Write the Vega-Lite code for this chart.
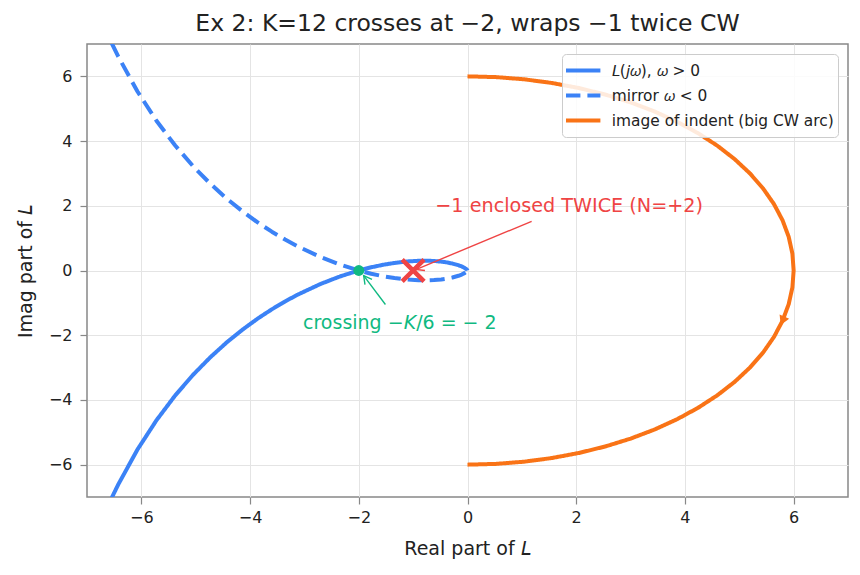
{
  "$schema": "https://vega.github.io/schema/vega-lite/v6.json",
  "width": 761,
  "height": 453,
  "autosize": {"type": "none"},
  "padding": {"left": 87, "top": 44, "right": 12, "bottom": 78},
  "background": "white",
  "title": {
    "text": "Ex 2: K=12 crosses at −2, wraps −1 twice CW",
    "font": "DejaVu Sans",
    "fontSize": 23.5,
    "fontWeight": "normal",
    "color": "#222222",
    "frame": "group",
    "anchor": "middle",
    "baseline": "alphabetic",
    "offset": 11,
    "dy": 21
  },
  "config": {
    "font": "DejaVu Sans",
    "view": {"stroke": "#888888", "strokeWidth": 1.5},
    "axis": {
      "domain": false,
      "grid": true,
      "gridColor": "#e4e4e4",
      "gridWidth": 1,
      "tickColor": "#888888",
      "tickSize": 7,
      "tickWidth": 1.2,
      "labelFont": "DejaVu Sans",
      "labelFontSize": 16,
      "labelColor": "#222222",
      "titleFont": "DejaVu Sans",
      "titleFontSize": 19,
      "titleFontWeight": "normal",
      "titleColor": "#222222"
    },
    "legend": {
      "orient": "top-right",
      "offset": 10,
      "padding": 4,
      "fillColor": "rgba(255,255,255,0.85)",
      "strokeColor": "#cccccc",
      "cornerRadius": 4,
      "labelFont": "DejaVu Sans",
      "labelFontSize": 15.4,
      "labelColor": "#222222",
      "labelLimit": 400,
      "symbolType": "M-1,0L1,0",
      "symbolSize": 1225,
      "clipHeight": 25,
      "rowPadding": 0,
      "labelOffset": 9.4,
      "symbolOffset": -2.6
    }
  },
  "datasets": {
    "curves": [
      {"s": "𝘓(𝘫𝜔), 𝜔 > 0", "i": 0, "x": -6.544, "y": -7.022},
      {"s": "𝘓(𝘫𝜔), 𝜔 > 0", "i": 1, "x": -6.424, "y": -6.609},
      {"s": "𝘓(𝘫𝜔), 𝜔 > 0", "i": 2, "x": -6.071, "y": -5.532},
      {"s": "𝘓(𝘫𝜔), 𝜔 > 0", "i": 3, "x": -5.722, "y": -4.629},
      {"s": "𝘓(𝘫𝜔), 𝜔 > 0", "i": 4, "x": -5.381, "y": -3.869},
      {"s": "𝘓(𝘫𝜔), 𝜔 > 0", "i": 5, "x": -5.050, "y": -3.226},
      {"s": "𝘓(𝘫𝜔), 𝜔 > 0", "i": 6, "x": -4.731, "y": -2.681},
      {"s": "𝘓(𝘫𝜔), 𝜔 > 0", "i": 7, "x": -4.426, "y": -2.217},
      {"s": "𝘓(𝘫𝜔), 𝜔 > 0", "i": 8, "x": -4.135, "y": -1.823},
      {"s": "𝘓(𝘫𝜔), 𝜔 > 0", "i": 9, "x": -3.860, "y": -1.486},
      {"s": "𝘓(𝘫𝜔), 𝜔 > 0", "i": 10, "x": -3.600, "y": -1.200},
      {"s": "𝘓(𝘫𝜔), 𝜔 > 0", "i": 11, "x": -3.356, "y": -0.956},
      {"s": "𝘓(𝘫𝜔), 𝜔 > 0", "i": 12, "x": -3.127, "y": -0.749},
      {"s": "𝘓(𝘫𝜔), 𝜔 > 0", "i": 13, "x": -2.712, "y": -0.422},
      {"s": "𝘓(𝘫𝜔), 𝜔 > 0", "i": 14, "x": -2.352, "y": -0.187},
      {"s": "𝘓(𝘫𝜔), 𝜔 > 0", "i": 15, "x": -2.000, "y": 0.000},
      {"s": "𝘓(𝘫𝜔), 𝜔 > 0", "i": 16, "x": -1.772, "y": 0.099},
      {"s": "𝘓(𝘫𝜔), 𝜔 > 0", "i": 17, "x": -1.542, "y": 0.180},
      {"s": "𝘓(𝘫𝜔), 𝜔 > 0", "i": 18, "x": -1.343, "y": 0.234},
      {"s": "𝘓(𝘫𝜔), 𝜔 > 0", "i": 19, "x": -1.097, "y": 0.281},
      {"s": "𝘓(𝘫𝜔), 𝜔 > 0", "i": 20, "x": -0.900, "y": 0.300},
      {"s": "𝘓(𝘫𝜔), 𝜔 > 0", "i": 21, "x": -0.743, "y": 0.302},
      {"s": "𝘓(𝘫𝜔), 𝜔 > 0", "i": 22, "x": -0.616, "y": 0.294},
      {"s": "𝘓(𝘫𝜔), 𝜔 > 0", "i": 23, "x": -0.484, "y": 0.275},
      {"s": "𝘓(𝘫𝜔), 𝜔 > 0", "i": 24, "x": -0.385, "y": 0.251},
      {"s": "𝘓(𝘫𝜔), 𝜔 > 0", "i": 25, "x": -0.277, "y": 0.215},
      {"s": "𝘓(𝘫𝜔), 𝜔 > 0", "i": 26, "x": -0.167, "y": 0.163},
      {"s": "𝘓(𝘫𝜔), 𝜔 > 0", "i": 27, "x": -0.106, "y": 0.124},
      {"s": "𝘓(𝘫𝜔), 𝜔 > 0", "i": 28, "x": -0.048, "y": 0.073},
      {"s": "𝘓(𝘫𝜔), 𝜔 > 0", "i": 29, "x": -0.024, "y": 0.046},
      {"s": "𝘓(𝘫𝜔), 𝜔 > 0", "i": 30, "x": -0.008, "y": 0.021},
      {"s": "𝘓(𝘫𝜔), 𝜔 > 0", "i": 31, "x": -0.002, "y": 0.007},
      {"s": "𝘓(𝘫𝜔), 𝜔 > 0", "i": 32, "x": 0.000, "y": 0.000},
      {"s": "mirror 𝜔 < 0", "i": 0, "x": -6.544, "y": 7.022},
      {"s": "mirror 𝜔 < 0", "i": 1, "x": -6.424, "y": 6.609},
      {"s": "mirror 𝜔 < 0", "i": 2, "x": -6.071, "y": 5.532},
      {"s": "mirror 𝜔 < 0", "i": 3, "x": -5.722, "y": 4.629},
      {"s": "mirror 𝜔 < 0", "i": 4, "x": -5.381, "y": 3.869},
      {"s": "mirror 𝜔 < 0", "i": 5, "x": -5.050, "y": 3.226},
      {"s": "mirror 𝜔 < 0", "i": 6, "x": -4.731, "y": 2.681},
      {"s": "mirror 𝜔 < 0", "i": 7, "x": -4.426, "y": 2.217},
      {"s": "mirror 𝜔 < 0", "i": 8, "x": -4.135, "y": 1.823},
      {"s": "mirror 𝜔 < 0", "i": 9, "x": -3.860, "y": 1.486},
      {"s": "mirror 𝜔 < 0", "i": 10, "x": -3.600, "y": 1.200},
      {"s": "mirror 𝜔 < 0", "i": 11, "x": -3.356, "y": 0.956},
      {"s": "mirror 𝜔 < 0", "i": 12, "x": -3.127, "y": 0.749},
      {"s": "mirror 𝜔 < 0", "i": 13, "x": -2.712, "y": 0.422},
      {"s": "mirror 𝜔 < 0", "i": 14, "x": -2.352, "y": 0.187},
      {"s": "mirror 𝜔 < 0", "i": 15, "x": -2.000, "y": 0.000},
      {"s": "mirror 𝜔 < 0", "i": 16, "x": -1.772, "y": -0.099},
      {"s": "mirror 𝜔 < 0", "i": 17, "x": -1.542, "y": -0.180},
      {"s": "mirror 𝜔 < 0", "i": 18, "x": -1.343, "y": -0.234},
      {"s": "mirror 𝜔 < 0", "i": 19, "x": -1.097, "y": -0.281},
      {"s": "mirror 𝜔 < 0", "i": 20, "x": -0.900, "y": -0.300},
      {"s": "mirror 𝜔 < 0", "i": 21, "x": -0.743, "y": -0.302},
      {"s": "mirror 𝜔 < 0", "i": 22, "x": -0.616, "y": -0.294},
      {"s": "mirror 𝜔 < 0", "i": 23, "x": -0.484, "y": -0.275},
      {"s": "mirror 𝜔 < 0", "i": 24, "x": -0.385, "y": -0.251},
      {"s": "mirror 𝜔 < 0", "i": 25, "x": -0.277, "y": -0.215},
      {"s": "mirror 𝜔 < 0", "i": 26, "x": -0.167, "y": -0.163},
      {"s": "mirror 𝜔 < 0", "i": 27, "x": -0.106, "y": -0.124},
      {"s": "mirror 𝜔 < 0", "i": 28, "x": -0.048, "y": -0.073},
      {"s": "mirror 𝜔 < 0", "i": 29, "x": -0.024, "y": -0.046},
      {"s": "mirror 𝜔 < 0", "i": 30, "x": -0.008, "y": -0.021},
      {"s": "mirror 𝜔 < 0", "i": 31, "x": -0.002, "y": -0.007},
      {"s": "mirror 𝜔 < 0", "i": 32, "x": 0.000, "y": 0.000},
      {"s": "image of indent (big CW arc)", "i": 0, "x": 0.0000, "y": 6.0000},
      {"s": "image of indent (big CW arc)", "i": 1, "x": 0.5229, "y": 5.9772},
      {"s": "image of indent (big CW arc)", "i": 2, "x": 1.0419, "y": 5.9088},
      {"s": "image of indent (big CW arc)", "i": 3, "x": 1.5529, "y": 5.7956},
      {"s": "image of indent (big CW arc)", "i": 4, "x": 2.0521, "y": 5.6382},
      {"s": "image of indent (big CW arc)", "i": 5, "x": 2.5357, "y": 5.4378},
      {"s": "image of indent (big CW arc)", "i": 6, "x": 3.0000, "y": 5.1962},
      {"s": "image of indent (big CW arc)", "i": 7, "x": 3.4415, "y": 4.9149},
      {"s": "image of indent (big CW arc)", "i": 8, "x": 3.8567, "y": 4.5963},
      {"s": "image of indent (big CW arc)", "i": 9, "x": 4.2426, "y": 4.2426},
      {"s": "image of indent (big CW arc)", "i": 10, "x": 4.5963, "y": 3.8567},
      {"s": "image of indent (big CW arc)", "i": 11, "x": 4.9149, "y": 3.4415},
      {"s": "image of indent (big CW arc)", "i": 12, "x": 5.1962, "y": 3.0000},
      {"s": "image of indent (big CW arc)", "i": 13, "x": 5.4378, "y": 2.5357},
      {"s": "image of indent (big CW arc)", "i": 14, "x": 5.6382, "y": 2.0521},
      {"s": "image of indent (big CW arc)", "i": 15, "x": 5.7956, "y": 1.5529},
      {"s": "image of indent (big CW arc)", "i": 16, "x": 5.9088, "y": 1.0419},
      {"s": "image of indent (big CW arc)", "i": 17, "x": 5.9772, "y": 0.5229},
      {"s": "image of indent (big CW arc)", "i": 18, "x": 6.0000, "y": 0.0000},
      {"s": "image of indent (big CW arc)", "i": 19, "x": 5.9772, "y": -0.5229},
      {"s": "image of indent (big CW arc)", "i": 20, "x": 5.9088, "y": -1.0419},
      {"s": "image of indent (big CW arc)", "i": 21, "x": 5.7956, "y": -1.5529},
      {"s": "image of indent (big CW arc)", "i": 22, "x": 5.6382, "y": -2.0521},
      {"s": "image of indent (big CW arc)", "i": 23, "x": 5.4378, "y": -2.5357},
      {"s": "image of indent (big CW arc)", "i": 24, "x": 5.1962, "y": -3.0000},
      {"s": "image of indent (big CW arc)", "i": 25, "x": 4.9149, "y": -3.4415},
      {"s": "image of indent (big CW arc)", "i": 26, "x": 4.5963, "y": -3.8567},
      {"s": "image of indent (big CW arc)", "i": 27, "x": 4.2426, "y": -4.2426},
      {"s": "image of indent (big CW arc)", "i": 28, "x": 3.8567, "y": -4.5963},
      {"s": "image of indent (big CW arc)", "i": 29, "x": 3.4415, "y": -4.9149},
      {"s": "image of indent (big CW arc)", "i": 30, "x": 3.0000, "y": -5.1962},
      {"s": "image of indent (big CW arc)", "i": 31, "x": 2.5357, "y": -5.4378},
      {"s": "image of indent (big CW arc)", "i": 32, "x": 2.0521, "y": -5.6382},
      {"s": "image of indent (big CW arc)", "i": 33, "x": 1.5529, "y": -5.7956},
      {"s": "image of indent (big CW arc)", "i": 34, "x": 1.0419, "y": -5.9088},
      {"s": "image of indent (big CW arc)", "i": 35, "x": 0.5229, "y": -5.9772},
      {"s": "image of indent (big CW arc)", "i": 36, "x": 0.0000, "y": -6.0000}
    ]
  },
  "layer": [
    {
      "mark": {"type": "rule", "color": "#808080", "strokeWidth": 1.6},
      "encoding": {"x": {"datum": 0, "type": "quantitative"}}
    },
    {
      "mark": {"type": "rule", "color": "#808080", "strokeWidth": 1.6},
      "encoding": {"y": {"datum": 0, "type": "quantitative"}}
    },
    {
      "data": {"name": "curves"},
      "mark": {"type": "line", "clip": true, "strokeJoin": "round"},
      "encoding": {
        "x": {
          "field": "x",
          "type": "quantitative",
          "scale": {"domain": [-7, 7], "nice": false, "zero": false},
          "axis": {"title": "Real part of 𝘓", "values": [-6, -4, -2, 0, 2, 4, 6], "format": "~g", "labelPadding": 5, "titlePadding": 14}
        },
        "y": {
          "field": "y",
          "type": "quantitative",
          "scale": {"domain": [-7, 7], "nice": false, "zero": false},
          "axis": {"title": "Imag part of 𝘓", "values": [-6, -4, -2, 0, 2, 4, 6], "format": "~g", "labelPadding": 8, "titlePadding": 13}
        },
        "order": {"field": "i", "type": "quantitative"},
        "color": {
          "field": "s",
          "type": "nominal",
          "title": null,
          "scale": {
            "domain": ["𝘓(𝘫𝜔), 𝜔 > 0", "mirror 𝜔 < 0", "image of indent (big CW arc)"],
            "range": ["#3b82f6", "#3b82f6", "#f97316"]
          }
        },
        "strokeDash": {
          "field": "s",
          "type": "nominal",
          "title": null,
          "scale": {
            "domain": ["𝘓(𝘫𝜔), 𝜔 > 0", "mirror 𝜔 < 0", "image of indent (big CW arc)"],
            "range": [[1, 0], [15, 7], [1, 0]]
          }
        },
        "strokeWidth": {
          "field": "s",
          "type": "nominal",
          "title": null,
          "scale": {
            "domain": ["𝘓(𝘫𝜔), 𝜔 > 0", "mirror 𝜔 < 0", "image of indent (big CW arc)"],
            "range": [4, 4, 5.3]
          }
        }
      }
    },
    {
      "data": {"values": [{"x": 5.7956, "y": -1.5529}]},
      "mark": {"type": "point", "shape": "triangle-down", "filled": true, "color": "#f97316", "opacity": 1, "size": 110, "angle": 24},
      "encoding": {"x": {"field": "x", "type": "quantitative"}, "y": {"field": "y", "type": "quantitative"}}
    },
    {
      "data": {"values": [{"x": -2, "y": 0}]},
      "mark": {"type": "point", "shape": "circle", "filled": true, "color": "#10b981", "opacity": 1, "size": 120},
      "encoding": {"x": {"field": "x", "type": "quantitative"}, "y": {"field": "y", "type": "quantitative"}}
    },
    {
      "data": {"values": [{"x": -1, "y": 0}]},
      "mark": {"type": "point", "shape": "M-1,-1L1,1M-1,1L1,-1", "filled": false, "stroke": "#ef4444", "strokeWidth": 4.5, "opacity": 1, "size": 480},
      "encoding": {"x": {"field": "x", "type": "quantitative"}, "y": {"field": "y", "type": "quantitative"}}
    },
    {
      "data": {"values": [{"x": 1.18, "y": 1.52, "x2": -0.95, "y2": 0.03}]},
      "mark": {"type": "rule", "color": "#ef4444", "strokeWidth": 1.4},
      "encoding": {
        "x": {"field": "x", "type": "quantitative"},
        "y": {"field": "y", "type": "quantitative"},
        "x2": {"field": "x2"},
        "y2": {"field": "y2"}
      }
    },
    {
      "data": {"values": [{"x": -0.95, "y": 0.03}]},
      "mark": {"type": "point", "shape": "M-1,-0.55L0,0L-1,0.55", "filled": false, "stroke": "#ef4444", "strokeWidth": 1.4, "opacity": 1, "size": 256, "angle": 157},
      "encoding": {"x": {"field": "x", "type": "quantitative"}, "y": {"field": "y", "type": "quantitative"}}
    },
    {
      "data": {"values": [{"x": -1.51, "y": -1.05, "x2": -1.91, "y2": -0.16}]},
      "mark": {"type": "rule", "color": "#10b981", "strokeWidth": 1.4},
      "encoding": {
        "x": {"field": "x", "type": "quantitative"},
        "y": {"field": "y", "type": "quantitative"},
        "x2": {"field": "x2"},
        "y2": {"field": "y2"}
      }
    },
    {
      "data": {"values": [{"x": -1.91, "y": -0.16}]},
      "mark": {"type": "point", "shape": "M-1,-0.55L0,0L-1,0.55", "filled": false, "stroke": "#10b981", "strokeWidth": 1.4, "opacity": 1, "size": 256, "angle": 233},
      "encoding": {"x": {"field": "x", "type": "quantitative"}, "y": {"field": "y", "type": "quantitative"}}
    },
    {
      "data": {"values": [{"x": 1.87, "y": 2.0, "label": "−1 enclosed TWICE (N=+2)"}]},
      "mark": {"type": "text", "font": "DejaVu Sans", "fontSize": 19.2, "color": "#ef4444", "align": "center", "baseline": "middle"},
      "encoding": {"x": {"field": "x", "type": "quantitative"}, "y": {"field": "y", "type": "quantitative"}, "text": {"field": "label"}}
    },
    {
      "data": {"values": [{"x": -1.175, "y": -1.61, "label": "crossing −"}]},
      "mark": {"type": "text", "font": "DejaVu Sans", "fontSize": 19, "color": "#10b981", "align": "right", "baseline": "middle"},
      "encoding": {"x": {"field": "x", "type": "quantitative"}, "y": {"field": "y", "type": "quantitative"}, "text": {"field": "label"}}
    },
    {
      "data": {"values": [{"x": -1.175, "y": -1.61, "label": "K"}]},
      "mark": {"type": "text", "font": "DejaVu Sans", "fontStyle": "italic", "fontSize": 19, "color": "#10b981", "align": "left", "baseline": "middle"},
      "encoding": {"x": {"field": "x", "type": "quantitative"}, "y": {"field": "y", "type": "quantitative"}, "text": {"field": "label"}}
    },
    {
      "data": {"values": [{"x": -0.945, "y": -1.61, "label": "/6 = − 2"}]},
      "mark": {"type": "text", "font": "DejaVu Sans", "fontSize": 19, "color": "#10b981", "align": "left", "baseline": "middle"},
      "encoding": {"x": {"field": "x", "type": "quantitative"}, "y": {"field": "y", "type": "quantitative"}, "text": {"field": "label"}}
    }
  ]
}
